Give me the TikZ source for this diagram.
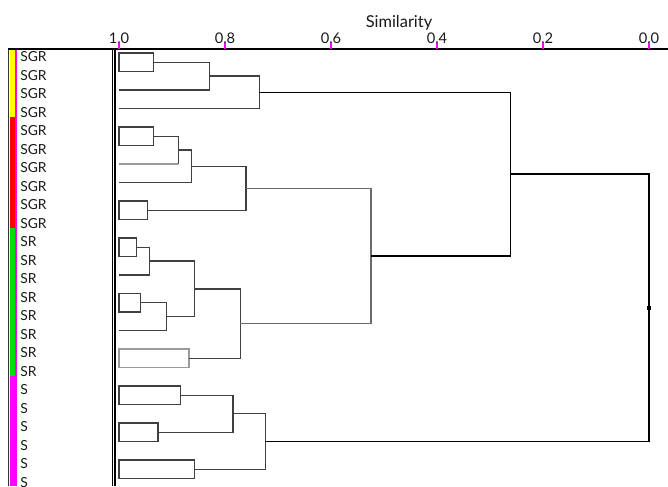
\documentclass[tikz,border=0pt]{standalone}
\usepackage{fontspec}
\setmainfont{Lato}
\definecolor{linkgray}{HTML}{404040}
\definecolor{lightlink}{HTML}{9A9A9A}
\definecolor{midlink}{HTML}{6A6A6A}
\definecolor{grpyellow}{HTML}{FFFF00}
\definecolor{grpred}{HTML}{FF0000}
\definecolor{grpgreen}{HTML}{00E000}
\definecolor{grpmagenta}{HTML}{FF00FF}
% dendrogram helpers: a pair of leaves joined straight away is drawn as a box
\newcommand\dendbox[4][linkgray]{\draw[link,draw=#1] (119,#2) rectangle (#4,#3);}
% join two branches (x_a,y_a) and (x_b,y_b) at merge height x_m
\newcommand\dendjoin[6][linkgray]{\draw[link,draw=#1] (#2,#3) -- (#6,#3) -- (#6,#5) -- (#4,#5);}
\begin{document}
\begin{tikzpicture}[x=0.75pt,y=-0.75pt,
  link/.style={line width=0.95pt,line join=miter},
  leaflabel/.style={anchor=west,inner sep=0pt,font=\fontsize{10.4}{12}\selectfont,text=black!90},
  ticklabel/.style={anchor=base,inner sep=0pt,font=\fontsize{11}{13}\selectfont,text=black!90},
  titlelabel/.style={anchor=base,inner sep=0pt,font=\fontsize{12.3}{14}\selectfont,text=black!90},
  tickmark/.style={draw=grpmagenta,line width=1.2pt}]
\useasboundingbox (0,0) rectangle (668,486);
\clip (0,0) rectangle (668,486);

% group colour bar
\fill[grpyellow] (10,49) rectangle (15,117);
\fill[grpred] (10,117) rectangle (15,228);
\fill[grpgreen] (10,228) rectangle (15,376);
\fill[grpmagenta] (10,376) rectangle (16.5,486);
\fill[grpmagenta] (15,49) rectangle (16.5,486);
\draw[line width=1pt,black!80] (8.8,49) -- (8.8,486);

% similarity axis
\draw[line width=1.2pt] (8,49) -- (668,49);
\foreach \s/\lab [count=\k] in {1.0/1.0,0.8/0.8,0.6/0.6,0.4/0.4,0.2/0.2,0.0/0.0}{
  \pgfmathsetmacro\xx{119+(1-\s)*530}
  \node[ticklabel] (tick\k) at (\xx,43.8) {\lab};
  \draw[tickmark] (\xx,42.5) -- (\xx,49);
}
\node[titlelabel] (axistitle) at (399,27) {Similarity};

% double rule at similarity 1.0
\draw[line width=1pt] (112.3,49) -- (112.3,486);
\draw[line width=1pt] (115,49) -- (115,486);

% leaf labels
\foreach \lab [count=\i from 0] in {SGR,SGR,SGR,SGR,SGR,SGR,SGR,SGR,SGR,SGR,SR,SR,SR,SR,SR,SR,SR,SR,S,S,S,S,S,S}{
  \node[leaflabel] (leaf\i) at (20,{57+18.5*\i}) {\lab};
}

% cluster A
\dendbox{53}{71.5}{153.7}
\dendjoin{153.7}{62.25}{119}{90}{209.3}
\dendjoin{209.3}{76.1}{119}{108.5}{259.3}
% cluster B
\dendbox{127}{145.5}{153.3}
\draw[link,draw=linkgray] (153.3,136.25) -- (178.3,136.25) -- (178.3,164);
\draw[link,draw=lightlink] (178.3,164) -- (119,164);
\dendjoin{178.3}{150.1}{119}{182.5}{191.7}
\dendbox{201}{219.5}{147.3}
\dendjoin{191.7}{166.3}{147.3}{210.25}{246}
% cluster C
\dendbox{238}{256.5}{136.7}
\dendjoin{136.7}{247.25}{119}{275}{149.7}
\dendbox{293.5}{312}{140.7}
\dendjoin{140.7}{302.75}{119}{330.5}{166.3}
\dendjoin{149.7}{261.1}{166.3}{316.6}{194.3}
\dendbox[lightlink]{349}{367.5}{189}
\dendjoin{194.3}{288.9}{189}{358.25}{240.3}
% B joined with C, then with A
\dendjoin[midlink]{246}{188.3}{240.3}{323.6}{371}
\dendjoin[black]{259.3}{92.3}{371}{256}{510.3}
% cluster D
\dendbox{386}{404.5}{180.7}
\dendbox{423}{441.5}{158}
\dendjoin{180.7}{395.25}{158}{432.25}{233}
\dendbox{460}{478.5}{194.7}
\dendjoin{233}{413.75}{194.7}{469.25}{265.3}
% root
\dendjoin[black]{510.3}{174.1}{265.3}{441.5}{649}
\fill (647.3,306.3) rectangle (650.7,309.7);
\end{tikzpicture}
\end{document}
